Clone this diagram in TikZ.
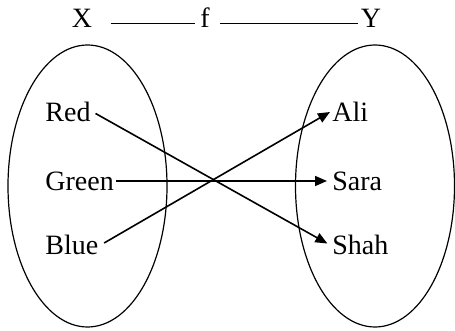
\documentclass[tikz,border=0pt]{standalone}
\usepackage{fontspec}
\setmainfont{Liberation Serif}
\usepackage{tikz}
\usetikzlibrary{arrows.meta,shapes.geometric}

\begin{document}
\begin{tikzpicture}[x=0.5pt, y=-0.5pt,
    font=\fontsize{14}{16}\selectfont,
    lbl/.style={inner sep=1pt, anchor=west},
    set/.style={draw, ellipse, line width=0.6pt, inner sep=0pt, minimum width=79.5pt, minimum height=141pt},
    map/.style={-{Triangle[length=6pt, width=5pt]}, line width=0.8pt}]
                \useasboundingbox (0,0) rectangle (455,331);

                % Sets
                \node[set] (dom) at (87.5,186) {};
                \node[set] (cod) at (375,186) {};

                % Title nodes
                \node[inner sep=1pt, anchor=base] (X) at (82,28) {X};
                \node[inner sep=1pt, anchor=base] (f) at (205,28) {f};
                \node[inner sep=1pt, anchor=base] (Y) at (371,28) {Y};
                \draw[line width=0.8pt, shorten <=8pt, shorten >=1.5pt] (X.mid east) -- (f.mid west);
                \draw[line width=0.8pt, shorten <=4pt] (f.mid east) -- (Y.mid west);

                % Domain nodes
                \node[lbl] (red) at (43,112) {Red};
                \node[lbl] (green) at (43,181) {Green};
                \node[lbl] (blue) at (43,245) {Blue};

                % Codomain nodes
                \node[lbl] (ali) at (330,112) {Ali};
                \node[lbl] (sara) at (330,181) {Sara};
                \node[lbl] (shah) at (330,245) {Shah};

                % Edges
                \draw[map, shorten <=1.5pt, shorten >=1.5pt] (red.east) -- (shah.west);
                \draw[map, shorten >=1.5pt] (green.east) -- (sara.west);
                \draw[map, shorten <=2pt] (blue.east) -- (ali.west);
            \end{tikzpicture}
\end{document}
